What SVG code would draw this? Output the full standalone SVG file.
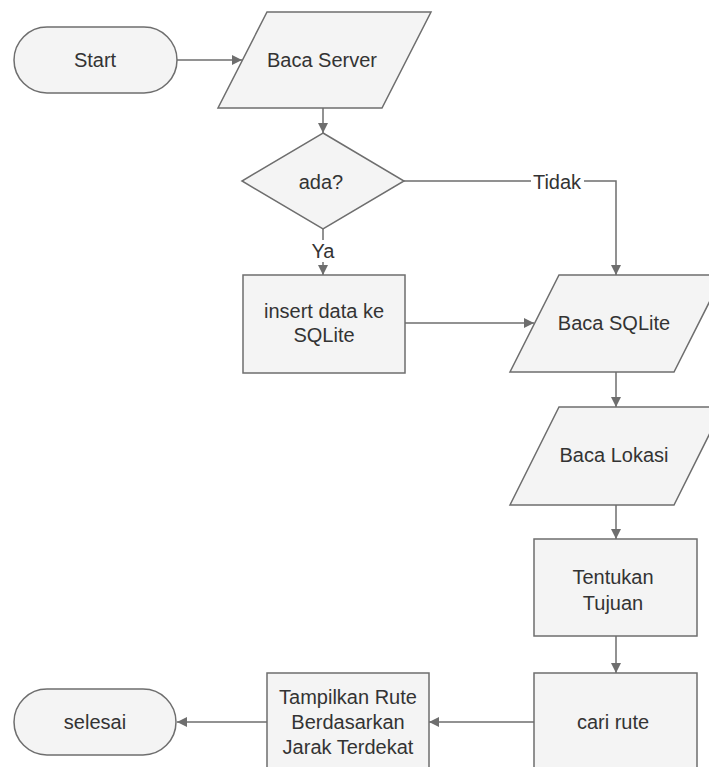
<svg xmlns="http://www.w3.org/2000/svg" width="709" height="767" viewBox="0 0 709 767">
<style>
.s{fill:#f4f4f4;stroke:#6e6e6e;stroke-width:1.5}
.t{font-family:"Liberation Sans",Arial,sans-serif;font-size:20px;fill:#333;text-anchor:middle;dominant-baseline:central}
.c{fill:none;stroke:#6e6e6e;stroke-width:1.5}
.lbl{font-family:"Liberation Sans",Arial,sans-serif;font-size:20px;fill:#333;text-anchor:middle;dominant-baseline:central}
</style>
<defs>
<marker id="ah" viewBox="0 0 10 10" refX="10" refY="5" markerWidth="10" markerHeight="10" markerUnits="userSpaceOnUse" orient="auto">
<path d="M0,0 L10,5 L0,10 z" fill="#6e6e6e"/>
</marker>
</defs>
<rect width="709" height="767" fill="#ffffff"/>
<g id="connectors">
<path class="c" d="M177,60 H242" marker-end="url(#ah)"/>
<path class="c" d="M323,108 V133" marker-end="url(#ah)"/>
<path class="c" d="M323,229 V275" marker-end="url(#ah)"/>
<rect x="311" y="240" width="24" height="22" fill="#ffffff"/>
<text class="lbl" x="323" y="251">Ya</text>
<path class="c" d="M404,181 H616 V275" marker-end="url(#ah)"/>
<rect x="531" y="171" width="53" height="22" fill="#ffffff"/>
<text class="lbl" x="557" y="182">Tidak</text>
<path class="c" d="M405,323 H534" marker-end="url(#ah)"/>
<path class="c" d="M616,372 V407" marker-end="url(#ah)"/>
<path class="c" d="M616,505 V539" marker-end="url(#ah)"/>
<path class="c" d="M616,636 V673" marker-end="url(#ah)"/>
<path class="c" d="M534,722 H429" marker-end="url(#ah)"/>
<path class="c" d="M267,722 H177" marker-end="url(#ah)"/>
</g>
<g id="start">
<rect class="s" x="14" y="27" width="163" height="66" rx="33" ry="33"/>
<text class="t" x="95" y="60">Start</text>
</g>
<g id="baca-server">
<polygon class="s" points="267,12 431,12 382,108 218,108"/>
<text class="t" x="322" y="60">Baca Server</text>
</g>
<g id="ada">
<polygon class="s" points="323,133 404,181 323,229 242,181"/>
<text class="t" x="321" y="182">ada?</text>
</g>
<g id="insert">
<rect class="s" x="243" y="275" width="162" height="98"/>
<text class="t" x="324" y="311">insert data ke</text>
<text class="t" x="324" y="335">SQLite</text>
</g>
<g id="baca-sqlite">
<polygon class="s" points="559,275 723,275 674,372 510,372"/>
<text class="t" x="614" y="323">Baca SQLite</text>
</g>
<g id="baca-lokasi">
<polygon class="s" points="559,407 723,407 674,505 510,505"/>
<text class="t" x="614" y="455">Baca Lokasi</text>
</g>
<g id="tentukan">
<rect class="s" x="534" y="539" width="163" height="97"/>
<text class="t" x="613" y="577">Tentukan</text>
<text class="t" x="613" y="603">Tujuan</text>
</g>
<g id="cari-rute">
<rect class="s" x="534" y="673" width="163" height="100"/>
<text class="t" x="613" y="722">cari rute</text>
</g>
<g id="tampilkan">
<rect class="s" x="267" y="673" width="162" height="100"/>
<text class="t" x="348" y="697">Tampilkan Rute</text>
<text class="t" x="348" y="722">Berdasarkan</text>
<text class="t" x="348" y="747">Jarak Terdekat</text>
</g>
<g id="selesai">
<rect class="s" x="14" y="689" width="162" height="66" rx="33" ry="33"/>
<text class="t" x="95" y="722">selesai</text>
</g>
</svg>
